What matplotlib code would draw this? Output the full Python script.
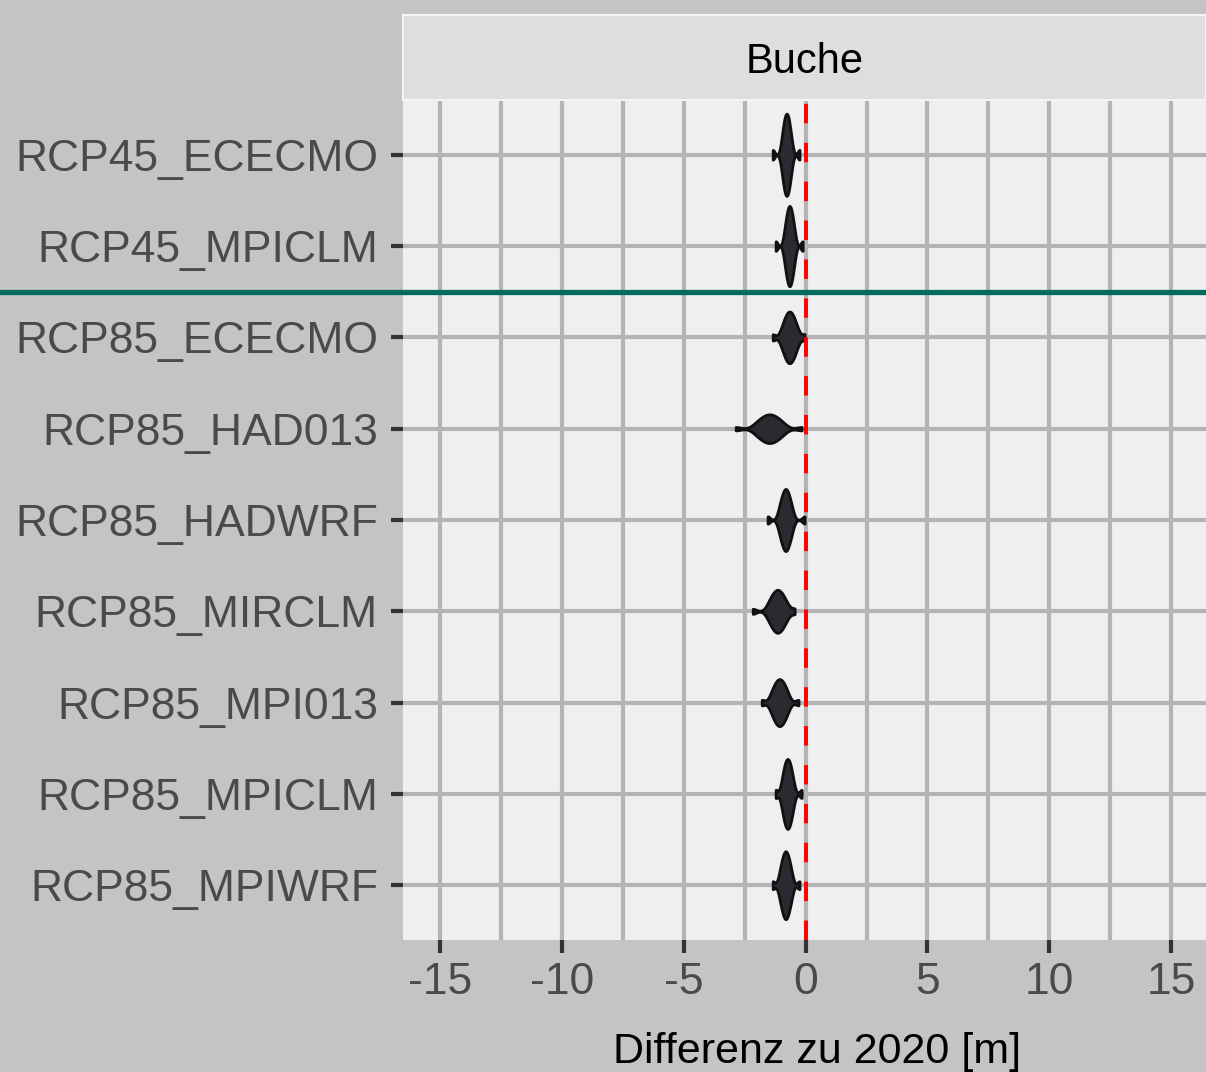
import numpy as np
import matplotlib
matplotlib.use("Agg")
import matplotlib.pyplot as plt

plt.rcParams['font.family'] = ['Liberation Sans', 'DejaVu Sans']

# scenario labels, top to bottom
scenarios = ["RCP45_ECECMO", "RCP45_MPICLM", "RCP85_ECECMO", "RCP85_HAD013",
             "RCP85_HADWRF", "RCP85_MIRCLM", "RCP85_MPI013", "RCP85_MPICLM",
             "RCP85_MPIWRF"]

# height differences to 2020 [m]
rcp45_ececmo = [-1.35, -1.0, -0.95, -0.92, -0.89, -0.87, -0.85, -0.83, -0.81, -0.79,
                -0.77, -0.75, -0.73, -0.71, -0.69, -0.67, -0.64, -0.61, -0.56, -0.25]
rcp45_mpiclm = [-1.23, -0.88, -0.84, -0.8, -0.78, -0.75, -0.73, -0.71, -0.69, -0.67,
                -0.65, -0.63, -0.61, -0.59, -0.57, -0.54, -0.52, -0.48, -0.44, -0.12]
rcp85_ececmo = [-1.35, -1.01, -0.94, -0.88, -0.84, -0.8, -0.77, -0.74, -0.71, -0.67,
                -0.65, -0.61, -0.58, -0.55, -0.52, -0.48, -0.44, -0.38, -0.31, -0.04]
rcp85_had013 = [-2.87, -2.1, -1.97, -1.88, -1.81, -1.74, -1.67, -1.62, -1.56, -1.51,
                -1.45, -1.4, -1.34, -1.29, -1.22, -1.15, -1.08, -0.99, -0.86, -0.16]
rcp85_hadwrf = [-1.56, -1.11, -1.05, -1.01, -0.97, -0.94, -0.91, -0.88, -0.86, -0.83,
                -0.81, -0.78, -0.76, -0.73, -0.7, -0.67, -0.63, -0.59, -0.53, -0.04]
rcp85_mirclm = [-2.17, -1.57, -1.48, -1.42, -1.37, -1.32, -1.28, -1.24, -1.21, -1.17,
                -1.13, -1.09, -1.06, -1.02, -0.98, -0.93, -0.88, -0.82, -0.73, -0.45]
rcp85_mpi013 = [-1.8, -1.44, -1.37, -1.31, -1.27, -1.23, -1.19, -1.15, -1.12, -1.09,
                -1.05, -1.02, -0.99, -0.95, -0.91, -0.87, -0.83, -0.77, -0.7, -0.29]
rcp85_mpiclm = [-1.23, -0.99, -0.94, -0.9, -0.87, -0.85, -0.82, -0.8, -0.77, -0.75,
                -0.73, -0.71, -0.68, -0.66, -0.63, -0.61, -0.58, -0.54, -0.49, -0.16]
rcp85_mpiwrf = [-1.35, -1.08, -1.03, -0.99, -0.96, -0.93, -0.9, -0.88, -0.85, -0.83,
                -0.81, -0.79, -0.76, -0.74, -0.71, -0.68, -0.65, -0.61, -0.56, -0.25]

samples = [rcp45_ececmo, rcp45_mpiclm, rcp85_ececmo, rcp85_had013, rcp85_hadwrf,
           rcp85_mirclm, rcp85_mpi013, rcp85_mpiclm, rcp85_mpiwrf]

xticks = [-15, -10, -5, 0, 5, 10, 15]
xtick_labels = ["-15", "-10", "-5", "0", "5", "10", "15"]
facet = "Buche"


def kde(vals):
    v = np.asarray(vals)
    n = len(v)
    iqr = np.subtract(*np.percentile(v, [75, 25]))
    bw = 0.9 * min(v.std(ddof=1), iqr / 1.34) * n ** -0.2  # like R bw.nrd0
    grid = np.linspace(v.min(), v.max(), 400)
    d = np.exp(-0.5 * ((grid[:, None] - v[None, :]) / bw) ** 2).sum(1)
    d /= n * bw * np.sqrt(2 * np.pi)
    return grid, d


fig = plt.figure(figsize=(12.06, 10.72), dpi=100)
fig.patch.set_facecolor('#c4c4c4')

W, H = 1206, 1072
ax = fig.add_axes([403 / W, 1 - 940 / H, 803 / W, 840 / H])
ax.set_facecolor('#efefef')

ax.set_xlim(-16.52, 16.43)
ax.set_ylim(len(scenarios) + 0.6, 0.4)

# grid
for x in np.arange(-15, 15.1, 2.5):
    ax.axvline(x, color='#b4b4b4', lw=3, zorder=1)
for i in range(len(scenarios)):
    ax.axhline(i + 1, color='#b4b4b4', lw=3, zorder=1)

# violins, scaled to equal area (ggplot default)
dens = [kde(s) for s in samples]
scale = 0.45 / max(d.max() for _, d in dens)
for i, (g, d) in enumerate(dens):
    y = i + 1
    ax.fill_between(g, y - d * scale, y + d * scale, facecolor='#2c2a30',
                    edgecolor='#111111', lw=2, zorder=3)

ax.axvline(0, color='#ff0000', lw=2.8, linestyle=(0, (5, 5)), zorder=4)

# separator between RCP45 and RCP85
ax.axhline(2.5, xmin=-0.51, xmax=1.0, color='#006b5f', lw=3.8, clip_on=False, zorder=5)

ax.set_yticks(range(1, len(scenarios) + 1))
ax.set_yticklabels(scenarios)
ax.set_xticks(xticks)
ax.set_xticklabels(xtick_labels)
ax.tick_params(axis='both', length=9, width=3, color='#333333',
               labelsize=32, labelcolor='#4a4a4a')
ax.tick_params(axis='y', pad=9)
ax.tick_params(axis='x', pad=7)
ax.set_xlabel("Differenz zu 2020 [m]", fontsize=31, color='black')
ax.xaxis.set_label_coords(0.516, -0.11)
for sp in ax.spines.values():
    sp.set_visible(False)

# facet strip
sax = fig.add_axes([403 / W, 1 - 100 / H, 803 / W, 85 / H])
sax.set_facecolor('#dedede')
sax.set_xticks([])
sax.set_yticks([])
for sp in sax.spines.values():
    sp.set_color('#f4f4f4')
    sp.set_linewidth(1.5)
sax.text(0.5, 0.45, facet, transform=sax.transAxes, ha='center', va='center',
         fontsize=30, color='black')

fig.savefig("out.png", dpi=100, facecolor=fig.get_facecolor())
